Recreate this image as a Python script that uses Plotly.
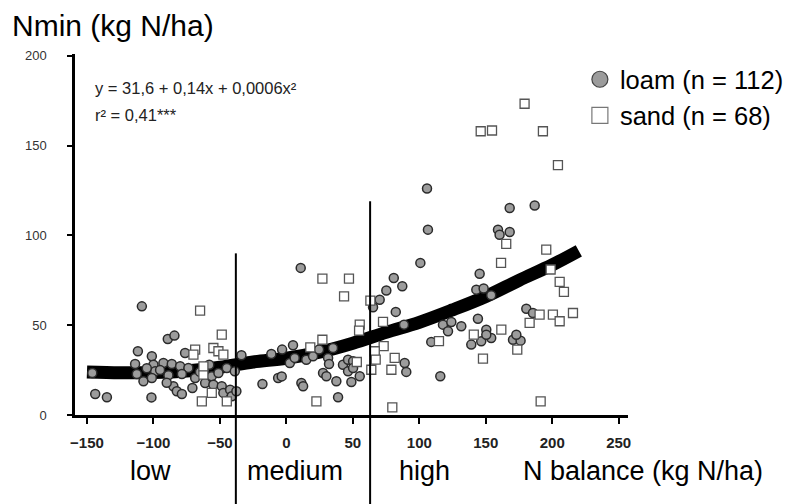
import plotly.graph_objects as go

# ---- data ----
loam_x = [-108.7, -146, -143.8, -135, -101.5, -89.2, -84.2, -111.7, -113.8, -112.5,
          -101.2, -100, -98.7, -107.5, -101.2, -92.5, -86.2, -79.9, -88.7, -76.2,
          -73.7, -78.6, -85, -82.4, -78.6, -70.7, -68.6, -61.1, -56.1, -54.9,
          -48.6, -47.4, -42.3, -41.1, -44.8, -51.1, -95, -65, -58, -90, -105,
          10.8, -33.8, -38.8, -37.6, -11.3, -3.2, 5, 2.6, 6.3, -18, -6.2, -3.5,
          11.3, 12.6, 15, 20.1, 24.6, 35.1, 31.4, 32.1, 27.6, 30.1, 37.6, 42.6,
          46.4, 50.2, 46.4, 48.9, 55.2, 50.2, 38.9,
          105.8, 106.5, 100.8, 80.8, 87.2, 75.2, 70.2, 65.2, 82.3, 88.5, 145.4,
          142.9, 148.4, 154.1, 159.2, 160.4, 117.8, 124.1, 121.6, 131.6, 109, 89,
          90.2, 115.8, 144.1, 150.4, 154.1, 139.1, 146.6,
          168, 186.8, 168, 180.5, 185.5, 170.5, 176.2, 173, 150.4]
loam_y = [60.5, 23.4, 11.7, 9.9, 9.8, 42.3, 44.2, 35.5, 28.4, 22.8,
          32.7, 28, 24.3, 18.8, 20.6, 29, 28.4, 27.1, 22.1, 34.5,
          26.2, 22.8, 16, 13.2, 11.7, 15, 20.6, 17.8, 21.6, 16.9,
          16, 12.3, 14.1, 10.4, 26.2, 23.4, 25, 24, 28, 18, 26,
          81.9, 33.3, 24.3, 13.2, 34, 36.4, 38.8, 29, 31.8, 17.3, 20.6, 21.5,
          17.8, 16, 30.8, 32.7, 36.4, 37.3, 31.8, 28.4, 23.4, 21.6, 18.8, 28,
          30.8, 29.9, 24.3, 18.4, 21.6, 26.2, 9.9,
          126.1, 103.2, 84.7, 76.3, 71.7, 69.3, 64.2, 60, 57.4, 50.3, 78.6,
          69.8, 70.4, 66.7, 103.2, 100.4, 50.3, 51.8, 46.6, 49.4, 40.7, 29,
          24, 21.6, 53.6, 47.5, 42.9, 39.2, 41.1,
          115.3, 116.6, 101.9, 59.2, 56.8, 41.9, 41.4, 44.7, 44.7]

sand_x = [-64.9, -48.6, -54.9, -51.1, -68.6, -69.9, -63.6, -44.8, -56.1, -62.4, -62.4, -47.4,
          27.1, 47.1, 43.4, 55.2, 54.7, 27.1, 18, 22.6, 53,
          63.2, 72.7, 73.2, 66.5, 67.2, 81.5, 79, 63.9, 114.8, 147.9, 79.7, 161.5,
          179.2, 146.2, 154.7, 193, 204.3, 195.5, 165.4, 198.8, 205.6, 208.8, 215.6,
          190.5, 200.5, 205.6, 183, 161.7, 173.7, 191.3, 141]
sand_y = [58.1, 44.7, 37.3, 35.5, 36.4, 33.6, 7.6, 7.6, 12.3, 22.5, 27.1, 33.6,
          75.9, 75.9, 66.1, 50.3, 47, 41.9, 37.7, 7.6, 29.5,
          63.7, 51.8, 38.3, 35.5, 30.8, 31.8, 25.2, 25.2, 41.1, 31.4, 4.3, 84.7,
          173.3, 158, 158.4, 158, 139.1, 92.1, 95.3, 81, 74.1, 68.5, 56.8,
          55.9, 55.9, 52.2, 51.3, 47.5, 36.4, 7.6, 44.7]

# regression curve
curve_x = [-150, -125, -100, -75, -50, -25, 0, 25, 50, 75, 100, 125, 150, 175, 200, 220]
curve_y = [24, 23.5, 23.6, 24.5, 26.6, 29.5, 31.6, 35, 40, 46, 51.6, 58.5, 66, 75, 83.6, 91.4]

# class boundaries (N balance) and the height their lines reach
bound_x = [-38, 63]
bound_top = [90, 119]

x_ticks = [-150, -100, -50, 0, 50, 100, 150, 200, 250]
y_ticks = [0, 50, 100, 150, 200]

title_text = "Nmin (kg N/ha)"
class_labels = ["low", "medium", "high", "N balance (kg N/ha)"]
legend_names = ["loam (n = 112)", "sand (n = 68)"]
equation = ["y = 31,6 + 0,14x + 0,0006x²", "r² = 0,41***"]

FONT = "Liberation Sans, Arial, sans-serif"

fig = go.Figure()

fig.add_trace(go.Scatter(x=curve_x, y=curve_y, mode="lines",
                         line=dict(color="black", width=13, shape="spline"),
                         showlegend=False, hoverinfo="skip"))

fig.add_trace(go.Scatter(x=loam_x, y=loam_y, mode="markers", showlegend=False,
                         marker=dict(symbol="circle", size=9, color="#9c9c9c",
                                     line=dict(color="#2a2a2a", width=1.5))))
fig.add_trace(go.Scatter(x=sand_x, y=sand_y, mode="markers", showlegend=False,
                         marker=dict(symbol="square", size=9, color="white",
                                     line=dict(color="#555555", width=1.3))))

# legend entries
fig.add_trace(go.Scatter(x=[None], y=[None], mode="markers", name=legend_names[0],
                         marker=dict(symbol="circle", size=16, color="#9c9c9c",
                                     line=dict(color="#444444", width=1.2))))
fig.add_trace(go.Scatter(x=[None], y=[None], mode="markers", name=legend_names[1],
                         marker=dict(symbol="square", size=16, color="white",
                                     line=dict(color="#777777", width=1.2))))

shapes = []
for bx, bt in zip(bound_x, bound_top):
    shapes.append(dict(type="line", xref="x", yref="y", x0=bx, x1=bx, y0=0, y1=bt,
                       line=dict(color="black", width=2)))
    shapes.append(dict(type="line", xref="x", yref="paper", x0=bx, x1=bx, y0=-0.3, y1=0,
                       line=dict(color="black", width=2)))

annotations = [dict(text=title_text, xref="paper", yref="paper", x=-0.118, y=1.13,
                    xanchor="left", yanchor="top", showarrow=False,
                    font=dict(family=FONT, size=30, color="black"))]
for txt, px in zip(class_labels, [0.136, 0.398, 0.632, 1.027]):
    annotations.append(dict(text=txt, xref="paper", yref="paper", x=px, y=-0.155,
                            xanchor="center", yanchor="middle", showarrow=False,
                            font=dict(family=FONT, size=27, color="black")))
for txt, py in zip(equation, [0.906, 0.831]):
    annotations.append(dict(text=txt, xref="paper", yref="paper", x=0.032, y=py,
                            xanchor="left", yanchor="middle", showarrow=False,
                            font=dict(family=FONT, size=16.5, color="#222222")))

fig.update_layout(
    width=795, height=504,
    margin=dict(l=67, r=175, t=46, b=97, autoexpand=False),
    paper_bgcolor="white", plot_bgcolor="white",
    font=dict(family=FONT, color="black"),
    xaxis=dict(range=[-159, 257], tickvals=x_ticks, showgrid=False, zeroline=False,
               showline=True, linecolor="black", linewidth=2.5,
               ticks="outside", ticklen=6, tickwidth=2, tickcolor="black",
               ticklabelstandoff=6,
               tickfont=dict(family=FONT, size=15, color="#222222", weight="bold")),
    yaxis=dict(range=[0, 201], tickvals=y_ticks, showgrid=False, zeroline=False,
               showline=True, linecolor="black", linewidth=2.5,
               ticks="outside", ticklen=5, tickwidth=1.5, tickcolor="black",
               ticklabelstandoff=18,
               tickfont=dict(family=FONT, size=13, color="#333333")),
    legend=dict(x=0.913, y=0.994, xanchor="left", yanchor="top", itemwidth=30,
                font=dict(family=FONT, size=25.5, color="black"),
                bgcolor="rgba(0,0,0,0)", tracegroupgap=0),
    shapes=shapes, annotations=annotations,
)

fig.write_html("out.html")
